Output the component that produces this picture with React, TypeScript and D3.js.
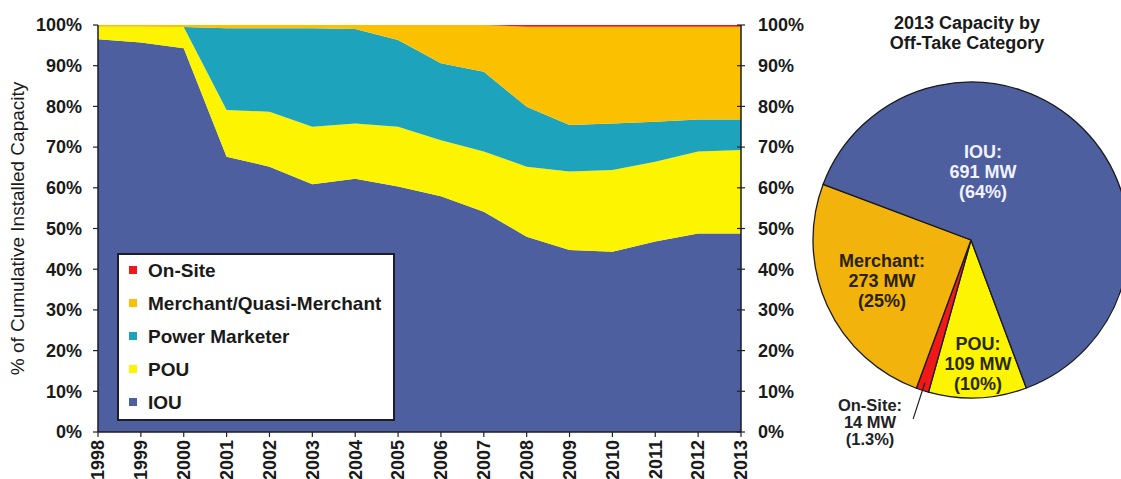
import * as d3 from 'd3';

// cumulative capacity share by off-take category (%)
const years = [1998, 1999, 2000, 2001, 2002, 2003, 2004, 2005, 2006, 2007, 2008, 2009, 2010, 2011, 2012, 2013];
const iou = [96.5, 95.7, 94.3, 67.6, 65.2, 60.9, 62.2, 60.3, 57.9, 54.1, 48.0, 44.7, 44.3, 46.8, 48.8, 48.8];
const pou = [3.1, 3.9, 5.2, 11.5, 13.5, 14.1, 13.6, 14.7, 13.8, 14.8, 17.2, 19.3, 20.1, 19.6, 20.1, 20.5];
const powerMarketer = [0, 0, 0, 20.1, 20.5, 24.2, 23.2, 21.3, 18.9, 19.6, 14.7, 11.4, 11.4, 9.8, 7.9, 7.5];
const merchant = [0.4, 0.4, 0.5, 0.8, 0.8, 0.8, 1.0, 3.7, 9.4, 11.5, 19.7, 24.2, 23.8, 23.4, 22.8, 22.8];
const onSite = [0, 0, 0, 0, 0, 0, 0, 0, 0, 0, 0.4, 0.4, 0.4, 0.4, 0.4, 0.4];

const yTicks = [0, 10, 20, 30, 40, 50, 60, 70, 80, 90, 100];

const legendNames = ['On-Site', 'Merchant/Quasi-Merchant', 'Power Marketer', 'POU', 'IOU'];

// 2013 pie
const pieNames = ['POU', 'On-Site', 'Merchant', 'IOU'];
const pieMW = [109, 14, 273, 691];
const piePct = ['10%', '1.3%', '25%', '64%'];

const colors: Record<string, string> = {
    'IOU': '#4d5f9e',
    'POU': '#fcf400',
    'Power Marketer': '#1ea3bc',
    'Merchant/Quasi-Merchant': '#fbc100',
    'Merchant': '#f2b40c',
    'On-Site': '#f01818',
};

const FONT = 'Arial, "Liberation Sans", sans-serif';

const App = () => {
    const W = 1121, H = 479;
    const left = 98, right = 741, top = 25, bottom = 432;

    const x = d3.scaleLinear().domain([1998, 2013]).range([left, right]);
    const y = d3.scaleLinear().domain([0, 100]).range([bottom, top]);

    const keys = ['IOU', 'POU', 'Power Marketer', 'Merchant/Quasi-Merchant', 'On-Site'];
    const rows = years.map((yr, i) => ({
        year: yr,
        'IOU': iou[i],
        'POU': pou[i],
        'Power Marketer': powerMarketer[i],
        'Merchant/Quasi-Merchant': merchant[i],
        'On-Site': onSite[i],
    }));
    const stacked = d3.stack<any>().keys(keys)(rows);

    const area = d3.area<any>()
        .x(d => x(d.data.year))
        .y0(d => y(d[0]))
        .y1(d => y(d[1]));

    // pie
    const cx = 971, cy = 240, r = 158;
    const start = 159.5 * Math.PI / 180;
    const pie = d3.pie<number>().sort(null).value(d => d).startAngle(start).endAngle(start + 2 * Math.PI);
    const arcs = pie(pieMW);
    const arc = d3.arc<d3.PieArcDatum<number>>().innerRadius(0).outerRadius(r);

    // label placement relative to pie center
    const labelPos: Record<string, [number, number, string]> = {
        'IOU': [12, -82, '#f2f2ff'],
        'Merchant': [-89, 27, '#2a2100'],
        'POU': [7, 110, '#2a2a00'],
        'On-Site': [-101, 171, '#222'],
    };

    const onSiteArc = arcs[1];
    const mid = (onSiteArc.startAngle + onSiteArc.endAngle) / 2;
    const lead = (rad: number) => [Math.sin(mid) * rad, -Math.cos(mid) * rad];
    const [l1x, l1y] = lead(150);
    const [l2x, l2y] = lead(188);

    return (
        <svg width={W} height={H} style={{position: 'absolute', left: 0, top: 0, background: '#fff'}} fontFamily={FONT}>
            {/* stacked areas */}
            {stacked.map(s => (
                <path key={s.key} d={area(s) ?? ''} fill={colors[s.key]} />
            ))}

            {/* left axis */}
            <line x1={left} x2={left} y1={top} y2={bottom} stroke="#1a1a2a" strokeWidth={1.5} />
            {yTicks.map(t => (
                <g key={'l' + t}>
                    <line x1={left - 5} x2={left} y1={y(t)} y2={y(t)} stroke="#222" strokeWidth={1.2} />
                    <text x={left - 16} y={y(t)} dy="0.35em" textAnchor="end" fontSize={18} fontWeight="bold" fill="#1a1a1a">{t}%</text>
                </g>
            ))}

            {/* right axis */}
            <line x1={right} x2={right} y1={top} y2={bottom} stroke="#1a1a2a" strokeWidth={1.5} />
            {yTicks.map(t => (
                <g key={'r' + t}>
                    <line x1={right - 4} x2={right + 4} y1={y(t)} y2={y(t)} stroke="#222" strokeWidth={1.2} />
                    <text x={right + 17} y={y(t)} dy="0.35em" textAnchor="start" fontSize={18} fontWeight="bold" fill="#1a1a1a">{t}%</text>
                </g>
            ))}

            {/* bottom axis */}
            <line x1={left} x2={right} y1={bottom} y2={bottom} stroke="#1a1a2a" strokeWidth={1.5} />
            {years.map(yr => (
                <g key={yr}>
                    <line x1={x(yr)} x2={x(yr)} y1={bottom} y2={bottom + 5} stroke="#222" strokeWidth={1.2} />
                    <text transform={`translate(${x(yr)},${bottom + 8}) rotate(-90)`} dy="0.35em" textAnchor="end" fontSize={18} fontWeight="bold" fill="#1a1a1a">{yr}</text>
                </g>
            ))}

            <text transform={`translate(24,${(top + bottom) / 2}) rotate(-90)`} textAnchor="middle" fontSize={19} fill="#1a1a1a">% of Cumulative Installed Capacity</text>

            {/* legend */}
            <rect x={118} y={254} width={276} height={166} fill="#fff" stroke="#1c1c2c" strokeWidth={2} />
            {legendNames.map((n, i) => (
                <g key={n} transform={`translate(133,${270 + i * 33})`}>
                    <rect x={-4} y={-4} width={8} height={8} fill={colors[n]} />
                    <text x={15} dy="0.35em" fontSize={19} fontWeight="bold" fill="#1a1a1a">{n}</text>
                </g>
            ))}

            {/* pie */}
            <text x={967} y={29} textAnchor="middle" fontSize={18} fontWeight="bold" fill="#1a1a1a">2013 Capacity by</text>
            <text x={967} y={49} textAnchor="middle" fontSize={18} fontWeight="bold" fill="#1a1a1a">Off-Take Category</text>
            <g transform={`translate(${cx},${cy})`}>
                {arcs.map((a, i) => (
                    <path key={pieNames[i]} d={arc(a) ?? ''} fill={colors[pieNames[i]]} stroke="#1a1a1a" strokeWidth={1.3} />
                ))}
                <line x1={l1x} y1={l1y} x2={l2x} y2={l2y} stroke="#222" strokeWidth={1.2} />
                {arcs.map((a, i) => {
                    const n = pieNames[i];
                    const [lx, ly, c] = labelPos[n];
                    const small = n === 'On-Site';
                    const lh = small ? 17 : 20;
                    return (
                        <text key={'t' + n} x={lx} y={ly} textAnchor="middle" fontSize={small ? 16.5 : 18} fontWeight="bold" fill={c}>
                            <tspan x={lx} dy={0}>{n}:</tspan>
                            <tspan x={lx} dy={lh}>{a.data} MW</tspan>
                            <tspan x={lx} dy={lh}>({piePct[i]})</tspan>
                        </text>
                    );
                })}
            </g>
        </svg>
    );
};

export default App;
